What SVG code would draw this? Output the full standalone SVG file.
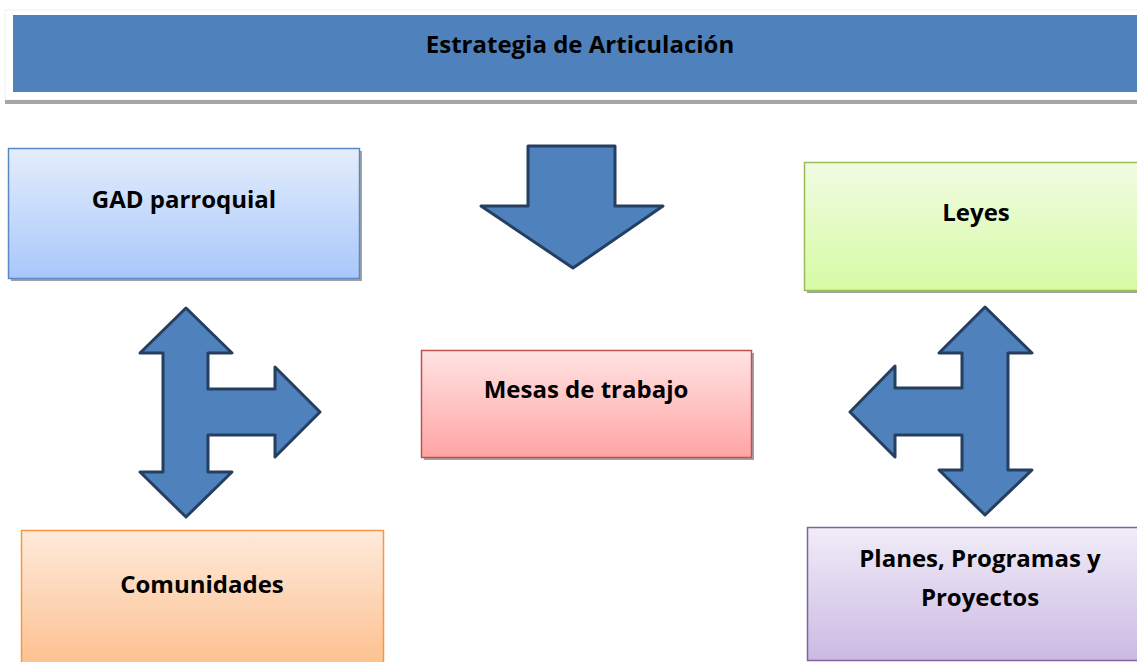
<svg xmlns="http://www.w3.org/2000/svg" width="1137" height="662" viewBox="0 0 1137 662">
<defs>
<linearGradient id="gBlue" x1="0" y1="0" x2="0" y2="1"><stop offset="0" stop-color="#e4edfc"/><stop offset="1" stop-color="#a8c7fa"/></linearGradient>
<linearGradient id="gGreen" x1="0" y1="0" x2="0" y2="1"><stop offset="0" stop-color="#f1fbe3"/><stop offset="1" stop-color="#d6fba4"/></linearGradient>
<linearGradient id="gRed" x1="0" y1="0" x2="0" y2="1"><stop offset="0" stop-color="#ffe3e3"/><stop offset="1" stop-color="#ffa4a4"/></linearGradient>
<linearGradient id="gOrange" x1="0" y1="0" x2="0" y2="1"><stop offset="0" stop-color="#feeadb"/><stop offset="1" stop-color="#fdbf8c"/></linearGradient>
<linearGradient id="gPurple" x1="0" y1="0" x2="0" y2="1"><stop offset="0" stop-color="#f1ecf8"/><stop offset="1" stop-color="#cbbae3"/></linearGradient>
</defs>
<style>
text{font-family:"Open Sans","Liberation Sans",sans-serif;font-weight:bold;font-size:24px;fill:#000;text-anchor:middle}
.shadow{fill:#a3a3a3}
.box{stroke-width:1.5}
.arrow{fill:#4f81bd;stroke:#243f60;stroke-width:3;stroke-linejoin:round}
</style>
<rect width="1137" height="662" fill="#fff"/>
<g id="header">
<rect x="5" y="10" width="1140" height="90" fill="#fff" stroke="#f0f0f0" stroke-width="1"/>
<rect x="5" y="100" width="1140" height="4" fill="#a6a6a6"/>
<rect x="13" y="15" width="1130" height="77" fill="#4f81bd"/>
<text x="580" y="53">Estrategia de Articulación</text>
</g>
<g id="gad">
<rect class="shadow" x="11" y="151" width="351" height="130"/>
<rect class="box" x="8.5" y="148.5" width="351" height="130" fill="url(#gBlue)" stroke="#5a88c6"/>
<text x="184" y="208">GAD parroquial</text>
</g>
<g id="leyes">
<rect class="shadow" x="807" y="165" width="340" height="128"/>
<rect class="box" x="804.5" y="162.5" width="340" height="128" fill="url(#gGreen)" stroke="#9bbb59"/>
<text x="976" y="221">Leyes</text>
</g>
<g id="mesas">
<rect class="shadow" x="424" y="353" width="330" height="107"/>
<rect class="box" x="421.5" y="350.5" width="330" height="107" fill="url(#gRed)" stroke="#c0504d"/>
<text x="586" y="398">Mesas de trabajo</text>
</g>
<g id="comunidades">
<rect class="box" x="21.5" y="530.5" width="362" height="140" fill="url(#gOrange)" stroke="#f79646"/>
<text x="202" y="593">Comunidades</text>
</g>
<g id="planes">
<rect class="box" x="807.5" y="527.5" width="340" height="133" fill="url(#gPurple)" stroke="#8064a2"/>
<text x="980" y="567">Planes, Programas y</text>
<text x="980" y="606">Proyectos</text>
</g>
<g id="connectors">
<polygon class="arrow" points="528,146 615,146 615,206 663,206 573,268 481,206 528,206"/>
<polygon class="arrow" points="186,308 232,353 208,353 208,389 275,389 275,367 320,412 275,457 275,435 208,435 208,472 232,472 186,517 140,472 163,472 163,353 140,353"/>
<polygon class="arrow" points="985,307 1032,353 1008,353 1008,470 1032,470 985,515 939,470 962,470 962,435 895,435 895,457 850,412 895,366 895,388 962,388 962,353 939,353"/>
</g>
</svg>
